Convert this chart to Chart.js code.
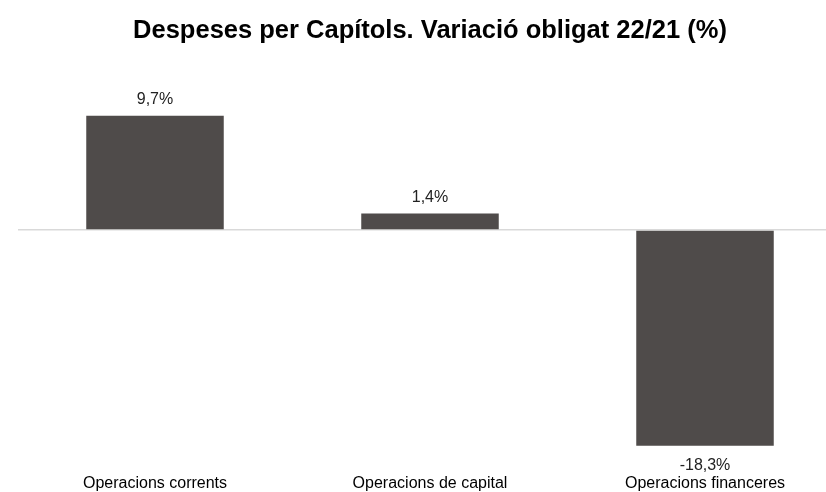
<!DOCTYPE html>
<html>
<head>
<meta charset="utf-8">
<script src="https://cdn.jsdelivr.net/npm/chart.js@4/dist/chart.umd.min.js"></script>
<style>
  html, body { margin: 0; padding: 0; background: #fff; overflow: hidden; }
  #wrap { width: 843px; height: 501px; }
</style>
</head>
<body>
<div id="wrap"><canvas id="myChart"></canvas></div>
<script>
// chart data
const categories = ["Operacions corrents", "Operacions de capital", "Operacions financeres"];
const variacio = [9.7, 1.4, -18.3];
const valueLabels = ["9,7%", "1,4%", "-18,3%"];

const barColor = "#4f4b4a";

// draws the value label above (or below for negatives) each bar
const barLabels = {
  id: "barLabels",
  afterDatasetsDraw(chart) {
    const ctx = chart.ctx;
    const meta = chart.getDatasetMeta(0);
    ctx.save();
    ctx.font = "16px 'Liberation Sans', Arial, sans-serif";
    ctx.fillStyle = "#222";
    ctx.textAlign = "center";
    ctx.textBaseline = "alphabetic";
    meta.data.forEach((bar, i) => {
      const v = variacio[i];
      const y = v >= 0 ? bar.y - 11.5 : bar.y + 24;
      ctx.fillText(valueLabels[i], bar.x, y);
    });
    ctx.restore();
  },
};

new Chart(document.getElementById("myChart"), {
  type: "bar",
  data: {
    labels: categories,
    datasets: [
      {
        data: variacio,
        backgroundColor: barColor,
        borderWidth: 0,
        categoryPercentage: 1,
        barPercentage: 0.5,
      },
    ],
  },
  options: {
    responsive: true,
    maintainAspectRatio: false,
    animation: false,
    layout: { padding: { left: 17.5, right: 0.5, top: 0, bottom: 0 } },
    plugins: {
      legend: { display: false },
      tooltip: { enabled: false },
      title: {
        display: true,
        text: "Despeses per Capítols. Variació obligat 22/21 (%)",
        color: "#000",
        font: { family: "'Liberation Sans', Arial, sans-serif", size: 25.5, weight: "bold" },
        padding: { top: 16, bottom: 42 },
      },
    },
    scales: {
      x: {
        grid: { display: false, drawTicks: false },
        border: { display: false },
        ticks: {
          color: "#000",
          padding: 8,
          maxRotation: 0,
          autoSkip: false,
          font: { family: "'Liberation Sans', Arial, sans-serif", size: 16 },
        },
      },
      y: {
        min: -20,
        max: 12,
        grid: {
          drawTicks: false,
          lineWidth: 1.5,
          color: (c) => (c.tick && c.tick.value === 0 ? "#d9d9d9" : "rgba(0,0,0,0)"),
        },
        border: { display: false },
        ticks: { display: false, stepSize: 2 },
      },
    },
  },
  plugins: [barLabels],
});
</script>
</body>
</html>
